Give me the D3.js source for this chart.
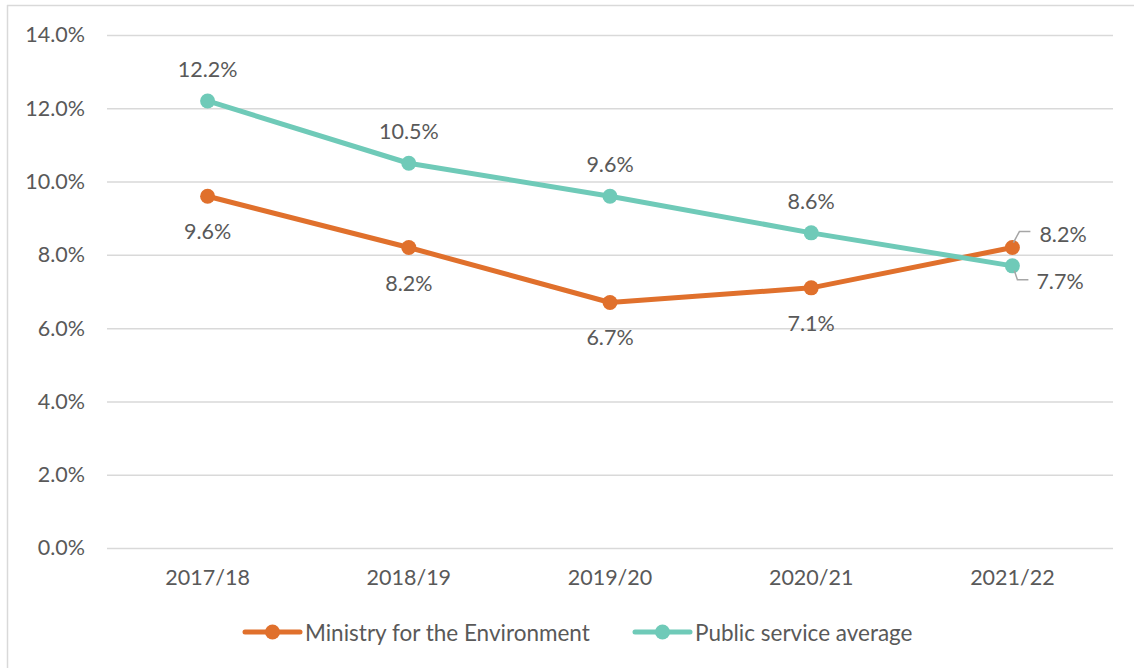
<!DOCTYPE html>
<html>
<head>
<meta charset="utf-8">
<script src="https://cdn.jsdelivr.net/npm/d3@7"></script>
<style>
  html, body { margin: 0; padding: 0; background: #fff; }
  svg { display: block; }
  text { font-family: Lato, "Open Sans", "Noto Sans", sans-serif; fill: #595959; }
</style>
</head>
<body>
<svg id="chart" width="1134" height="668"></svg>
<script>
// Turnover rates by financial year
const years = ["2017/18", "2018/19", "2019/20", "2020/21", "2021/22"];
const ministryValues = [9.6, 8.2, 6.7, 7.1, 8.2];
const publicValues = [12.2, 10.5, 9.6, 8.6, 7.7];
const yTicks = [0, 2, 4, 6, 8, 10, 12, 14];
const seriesNames = ["Ministry for the Environment", "Public service average"];
const seriesColors = ["#E0702C", "#6FCAB8"];

const svg = d3.select("#chart");
const W = 1134, H = 668;
const plot = { left: 107, right: 1113, top: 35, bottom: 548 };
const fontSize = 21.5;

// outer frame (top and left edges)
svg.append("line").attr("x1", 7).attr("x2", W).attr("y1", 5.5).attr("y2", 5.5)
  .attr("stroke", "#D9D9D9").attr("stroke-width", 1.5);
svg.append("line").attr("x1", 7.5).attr("x2", 7.5).attr("y1", 5).attr("y2", H)
  .attr("stroke", "#D9D9D9").attr("stroke-width", 1.5);

const x = d3.scaleBand().domain(years).range([plot.left, plot.right]);
const y = d3.scaleLinear().domain([0, 14]).range([plot.bottom, plot.top]);
const cx = d => x(d) + x.bandwidth() / 2;

// gridlines + y labels
const yAxis = d3.axisLeft(y).tickValues(yTicks)
  .tickSize(-(plot.right - plot.left)).tickPadding(22)
  .tickFormat(d => d.toFixed(1) + "%");
const gy = svg.append("g").attr("transform", `translate(${plot.left},0)`).call(yAxis);
gy.select(".domain").remove();
gy.selectAll(".tick line").attr("stroke", "#D9D9D9").attr("stroke-width", 1.5);
gy.selectAll(".tick text").attr("font-size", fontSize).style("font-family", null).attr("fill", "#595959");

// x labels
const xAxis = d3.axisBottom(x).tickSize(0).tickPadding(22);
const gx = svg.append("g").attr("transform", `translate(0,${plot.bottom})`).call(xAxis);
gx.select(".domain").remove();
gx.selectAll(".tick text").attr("font-size", fontSize).style("font-family", null).attr("fill", "#595959");

const line = d3.line().x((d, i) => cx(years[i])).y(d => y(d));

const series = [ministryValues, publicValues];
series.forEach((vals, s) => {
  svg.append("path").datum(vals)
    .attr("d", line).attr("fill", "none")
    .attr("stroke", seriesColors[s]).attr("stroke-width", 5)
    .attr("stroke-linejoin", "round").attr("stroke-linecap", "round");
  svg.append("g").selectAll("circle").data(vals).join("circle")
    .attr("cx", (d, i) => cx(years[i])).attr("cy", d => y(d))
    .attr("r", 7.5).attr("fill", seriesColors[s]);
});

// data labels: ministry below, public above; last point uses leader lines
const lastIdx = years.length - 1;
ministryValues.forEach((v, i) => {
  if (i === lastIdx) return;
  svg.append("text").attr("x", cx(years[i])).attr("y", y(v) + 35)
    .attr("text-anchor", "middle").attr("dominant-baseline", "central")
    .attr("font-size", fontSize).text(v.toFixed(1) + "%");
});
publicValues.forEach((v, i) => {
  if (i === lastIdx) return;
  svg.append("text").attr("x", cx(years[i])).attr("y", y(v) - 32)
    .attr("text-anchor", "middle").attr("dominant-baseline", "central")
    .attr("font-size", fontSize).text(v.toFixed(1) + "%");
});

// leader-line labels for the final year
const lx = cx(years[lastIdx]);
const mY = y(ministryValues[lastIdx]), pY = y(publicValues[lastIdx]);
svg.append("polyline")
  .attr("points", `${lx + 1},${mY - 5} ${lx + 7},${mY - 16} ${lx + 18},${mY - 16}`)
  .attr("fill", "none").attr("stroke", "#A6A6A6").attr("stroke-width", 1.5);
svg.append("text").attr("x", lx + 27).attr("y", mY - 14)
  .attr("dominant-baseline", "central").attr("font-size", fontSize)
  .text(ministryValues[lastIdx].toFixed(1) + "%");
svg.append("polyline")
  .attr("points", `${lx + 2},${pY + 5} ${lx + 5},${pY + 14} ${lx + 16},${pY + 14}`)
  .attr("fill", "none").attr("stroke", "#A6A6A6").attr("stroke-width", 1.5);
svg.append("text").attr("x", lx + 24).attr("y", pY + 15)
  .attr("dominant-baseline", "central").attr("font-size", fontSize)
  .text(publicValues[lastIdx].toFixed(1) + "%");

// legend
const legendY = 632;
const legendX = [245, 635];
seriesNames.forEach((name, s) => {
  const g = svg.append("g").attr("transform", `translate(${legendX[s]},${legendY})`);
  g.append("line").attr("x1", 0).attr("x2", 55).attr("y1", 0).attr("y2", 0)
    .attr("stroke", seriesColors[s]).attr("stroke-width", 5).attr("stroke-linecap", "round");
  g.append("circle").attr("cx", 27.5).attr("cy", 0).attr("r", 7.5).attr("fill", seriesColors[s]);
  g.append("text").attr("x", 60).attr("y", 0).attr("dominant-baseline", "central")
    .attr("font-size", 22.5).text(name);
});
</script>
</body>
</html>
